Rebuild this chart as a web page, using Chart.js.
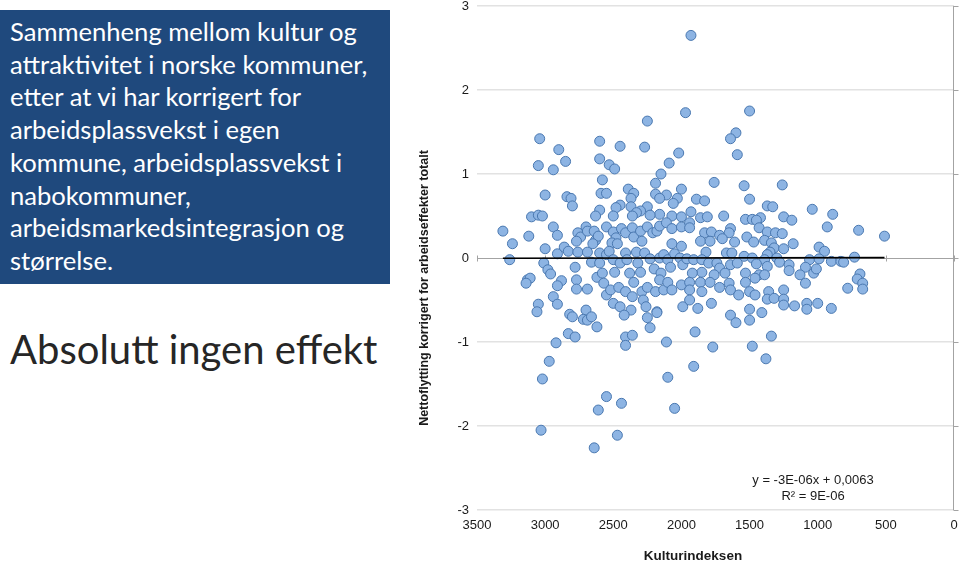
<!DOCTYPE html>
<html lang="no">
<head>
<meta charset="utf-8">
<title>Kultur og attraktivitet</title>
<script src="https://cdn.jsdelivr.net/npm/chart.js@4.4.1/dist/chart.umd.min.js"></script>
<style>
  html, body { margin: 0; padding: 0; background: #fff; }
  body { width: 960px; height: 565px; position: relative; overflow: hidden; }
  .boks {
    position: absolute; left: 0; top: 10px; width: 390px; height: 274px;
    background: #1f497d; color: #fff; box-sizing: border-box; padding: 5px 0 0 10px;
    font-family: Lato, "Open Sans", sans-serif; font-size: 25.6px; line-height: 32.7px;
    white-space: nowrap;
  }
  .konklusjon {
    position: absolute; left: 10px; top: 325px; white-space: nowrap;
    font-family: Lato, "Open Sans", sans-serif; font-size: 40px; color: #262626;
  }
  .graf { position: absolute; left: 400px; top: 0; width: 560px; height: 565px; }
</style>
</head>
<body>
<div class="boks">
  Sammenheng mellom kultur og<br>
  attraktivitet i norske kommuner,<br>
  etter at vi har korrigert for<br>
  arbeidsplassvekst i egen<br>
  kommune, arbeidsplassvekst i<br>
  nabokommuner,<br>
  arbeidsmarkedsintegrasjon og<br>
  størrelse.
</div>
<div class="konklusjon">Absolutt ingen effekt</div>
<div class="graf"><canvas id="spredning" width="560" height="565"></canvas></div>

<script>
// kulturindeks (x) og nettoflytting (y) for hver kommune, lest av figuren
const kulturindeks = [
  1930, 1970, 2250, 3040, 2600, 2450, 2270, 2900, 2020, 2600, 2850, 2530, 2090, 3050, 2940, 2490,
  2150, 2580, 2190, 2390, 2350, 2000, 2590, 2550, 2190, 3000, 2840, 2810, 2110, 2030, 2160, 2370,
  2060, 2800, 2450, 2480, 2370, 2250, 2600, 2300, 2330, 2160, 3100, 3050, 3020, 2630, 2500, 2360,
  2230, 2070, 2000, 1500, 1600, 1640, 1590, 1760, 1540, 1260, 1890, 1830, 1500, 1370, 1330, 1040,
  890, 1930, 1690, 1860, 1810, 1530, 1480, 1420, 1250, 1190, 3310, 3120, 3240, 2940, 2910, 3000,
  3260, 2910, 2860, 2830, 3010, 2980, 2960, 2880, 2910, 3130, 3110, 3140, 2780, 2770, 2770, 2690,
  2940, 2910, 3050, 3060, 2820, 2700, 2760, 2740, 2700, 2690, 2640, 2630, 2610, 2550, 2500, 2480,
  2510, 2470, 2440, 2410, 2360, 2350, 2300, 2290, 2250, 2210, 2180, 2160, 2110, 2070, 2000, 2070,
  2000, 2770, 2760, 2690, 2650, 2660, 2600, 2600, 2550, 2530, 2500, 2490, 2450, 2410, 2400, 2380,
  2330, 2320, 2300, 2270, 2230, 2200, 2160, 2150, 2130, 2100, 2080, 2050, 2010, 1990, 2620, 2580,
  2570, 2550, 2520, 2500, 2460, 2450, 2410, 2360, 2350, 2290, 2280, 2250, 2190, 2160, 2130, 2100,
  2070, 2000, 1990, 2180, 2260, 2370, 1450, 1940, 1940, 1830, 1780, 1720, 1640, 1650, 1700, 1860,
  1790, 1610, 1520, 1470, 1430, 1370, 1310, 1260, 1390, 1340, 1320, 1250, 1180, 930, 700, 510,
  990, 950, 1350, 1820, 1670, 1630, 1540, 1480, 1370, 1300, 1390, 730, 900, 830, 810, 1060,
  990, 1960, 1910, 1850, 1800, 1740, 1720, 1640, 1590, 1450, 1370, 1280, 1210, 1210, 1090, 1030,
  1010, 1130, 1850, 1920, 1760, 1680, 1530, 1430, 1390, 690, 710, 670, 670, 780, 1940, 1860,
  1790, 1720, 1650, 1530, 1460, 1940, 1850, 1640, 1580, 1500, 1460, 1360, 1250, 1940, 1780, 1370,
  1320, 1250, 1250, 1170, 1080, 1080, 1000, 900, 1880, 1500, 1410, 1640, 1090, 2800, 2720, 2690,
  2660, 2620, 2420, 2250, 2230, 2180, 2830, 2780, 2920, 2970, 3020, 3030, 2410, 2360, 2410, 2110,
  2100, 2050, 2550, 2440, 2610, 2470, 2640, 1600, 1500, 1900, 1340, 1770, 1480, 1380, 1910
];
const nettoflytting = [
  2.65, 1.73, 1.63, 1.42, 1.39, 1.33, 1.32, 1.29, 1.25, 1.18, 1.15, 1.11, 1.13, 1.10, 1.05, 1.06,
  1.00, 0.93, 0.89, 0.82, 0.77, 0.82, 0.77, 0.77, 0.76, 0.75, 0.73, 0.71, 0.75, 0.71, 0.71, 0.71,
  0.65, 0.62, 0.63, 0.60, 0.61, 0.61, 0.57, 0.56, 0.54, 0.52, 0.49, 0.51, 0.50, 0.50, 0.50, 0.50,
  0.51, 0.50, 0.49, 1.75, 1.49, 1.42, 1.23, 0.90, 0.86, 0.87, 0.70, 0.68, 0.70, 0.62, 0.61, 0.58,
  0.52, 0.55, 0.50, 0.48, 0.49, 0.46, 0.46, 0.48, 0.49, 0.45, 0.32, 0.26, 0.17, 0.37, 0.27, 0.11,
  -0.02, 0.05, 0.13, 0.08, -0.06, -0.14, -0.19, -0.27, -0.33, -0.26, -0.24, -0.30, -0.11, -0.26, -0.37, -0.37,
  -0.46, -0.55, -0.55, -0.64, -0.67, -0.62, 0.30, 0.25, 0.37, 0.32, 0.32, 0.21, 0.26, 0.37, 0.31, 0.24,
  0.18, 0.17, 0.35, 0.30, 0.36, 0.25, 0.32, 0.20, 0.37, 0.30, 0.32, 0.38, 0.42, 0.35, 0.37, 0.17,
  0.14, 0.20, 0.07, 0.07, 0.17, -0.05, 0.06, -0.06, 0.04, 0.08, -0.02, -0.17, -0.06, 0.06, -0.02, -0.18,
  0.07, -0.06, -0.17, 0.06, -0.01, -0.13, 0.00, -0.18, 0.04, -0.02, -0.11, 0.05, 0.00, -0.08, -0.23, -0.18,
  -0.30, -0.44, -0.38, -0.54, -0.35, -0.58, -0.40, -0.46, -0.29, -0.40, -0.50, -0.35, -0.40, -0.26, -0.38, -0.29,
  -0.38, -0.32, -0.58, -0.64, -0.58, -0.62, 0.45, 0.42, 0.36, 0.30, 0.31, 0.27, 0.35, 0.30, 0.23, 0.20,
  0.20, 0.19, 0.25, 0.19, 0.36, 0.31, 0.30, 0.29, 0.21, 0.18, 0.12, 0.11, 0.17, 0.37, 0.33, 0.26,
  0.13, 0.08, 0.07, 0.07, 0.06, 0.06, 0.02, 0.00, 0.04, 0.00, -0.02, 0.01, -0.04, -0.04, -0.05, -0.02,
  -0.01, -0.01, -0.02, -0.02, -0.06, -0.06, -0.12, -0.08, -0.06, -0.07, -0.10, -0.05, -0.08, -0.15, -0.11, -0.18,
  -0.13, -0.20, -0.17, -0.18, -0.20, -0.18, -0.18, -0.20, -0.20, -0.19, -0.25, -0.30, -0.37, -0.36, -0.29, -0.29,
  -0.29, -0.35, -0.30, -0.29, -0.24, -0.38, -0.40, -0.38, -0.44, -0.40, -0.44, -0.40, -0.38, -0.50, -0.54, -0.49,
  -0.48, -0.49, -0.56, -0.57, -0.54, -0.61, -0.54, -0.60, -0.60, -0.61, -0.65, -0.68, -0.30, -0.70, -0.73, -0.74,
  -0.70, -0.82, -0.68, -0.71, -0.83, -0.65, -0.90, -0.94, -1.01, -1.23, -1.44, -2.05, -0.94, -0.92, -1.04, -1.00,
  -1.42, -1.79, -1.65, -1.73, -1.81, -2.11, -2.26, -0.77, -0.74, -0.88, -0.93, -1.06, -1.05, -1.20, -1.29
];

// lineær trendlinje slik den står i figuren
const trendStigning = -3e-6;
const trendKonstant = 0.0063;
const likningTekst = ['y = -3E-06x + 0,0063', 'R² = 9E-06'];

const xTittel = 'Kulturindeksen';
const yTittel = 'Nettoflytting korrigert for arbeidseffekter totalt';
const xMin = 0, xMax = 3500, xSteg = 500;
const yMin = -3, yMax = 3, ySteg = 1;

const skrift = '"Liberation Sans", Arial, sans-serif';

const punkter = kulturindeks.map((x, i) => ({ x: x, y: nettoflytting[i] }));
const tMin = Math.min(...kulturindeks);
const tMax = Math.max(...kulturindeks);
const trend = [tMin, tMax].map(x => ({ x: x, y: trendStigning * x + trendKonstant }));

// aksestrek til høyre, små tikk og tekster som Excel-figuren har
const ramme = {
  id: 'ramme',
  beforeDatasetsDraw(chart) {
    const { ctx, chartArea } = chart;
    const x = chart.scales.x, y = chart.scales.y;
    ctx.save();
    ctx.strokeStyle = '#a3a3a3';
    ctx.lineWidth = 1;
    ctx.beginPath();
    const x0 = Math.round(x.getPixelForValue(0)) - 0.5;
    ctx.moveTo(x0, chartArea.top);
    ctx.lineTo(x0, chartArea.bottom);
    y.ticks.forEach(t => {
      const py = Math.round(y.getPixelForValue(t.value)) + 0.5;
      ctx.moveTo(x0, py);
      ctx.lineTo(x0 + 5, py);
    });
    const y0 = Math.round(y.getPixelForValue(0)) + 0.5;
    x.ticks.forEach(t => {
      const px = Math.round(x.getPixelForValue(t.value)) + 0.5;
      ctx.moveTo(px, y0 - 3);
      ctx.lineTo(px, y0 + 3);
    });
    ctx.stroke();
    ctx.restore();
  },
  afterDraw(chart) {
    const ctx = chart.ctx;
    ctx.save();
    ctx.fillStyle = '#1a1a1a';
    ctx.textAlign = 'center';
    ctx.textBaseline = 'middle';
    ctx.font = 'bold 13.5px ' + skrift;
    ctx.fillText(xTittel, 293, 556);
    ctx.save();
    ctx.translate(25, 288);
    ctx.rotate(-Math.PI / 2);
    ctx.font = 'bold 12.5px ' + skrift;
    ctx.fillText(yTittel, 0, 0);
    ctx.restore();
    ctx.font = '13px ' + skrift;
    ctx.fillText(likningTekst[0], 413, 480);
    ctx.fillText(likningTekst[1], 413, 496);
    ctx.restore();
  }
};

new Chart(document.getElementById('spredning'), {
  type: 'scatter',
  data: {
    datasets: [
      {
        label: 'Trend',
        type: 'line',
        data: trend,
        borderColor: '#000',
        borderWidth: 1.6,
        pointRadius: 0,
        fill: false,
        order: 0
      },
      {
        label: 'Kommuner',
        data: punkter,
        backgroundColor: '#8db4e3',
        borderColor: '#4a78b0',
        borderWidth: 1,
        pointRadius: 5,
        order: 1
      }
    ]
  },
  options: {
    responsive: false,
    devicePixelRatio: 1,
    animation: false,
    layout: { padding: { top: 5, right: 3, left: 0, bottom: 0 } },
    plugins: { legend: { display: false }, tooltip: { enabled: false } },
    scales: {
      x: {
        type: 'linear',
        min: xMin, max: xMax, reverse: true,
        ticks: {
          stepSize: xSteg, padding: 8, color: '#1a1a1a', font: { family: skrift, size: 13 },
          callback: v => String(v)
        },
        grid: { display: false, drawTicks: false },
        border: { display: false },
        afterFit(s) { s.height = 55; s.paddingLeft = 0; s.paddingRight = 0; }
      },
      y: {
        min: yMin, max: yMax,
        ticks: {
          stepSize: ySteg, padding: 8, color: '#1a1a1a', font: { family: skrift, size: 13 },
          callback: v => String(v)
        },
        grid: {
          drawTicks: false,
          color: c => (c.tick && c.tick.value === 0 ? '#a3a3a3' : '#e2e2e2'),
          lineWidth: c => (c.tick && c.tick.value === 0 ? 1 : 1.5)
        },
        border: { display: false },
        afterFit(s) { s.width = 77; s.paddingTop = 0; s.paddingBottom = 0; }
      }
    }
  },
  plugins: [ramme]
});
</script>
</body>
</html>
